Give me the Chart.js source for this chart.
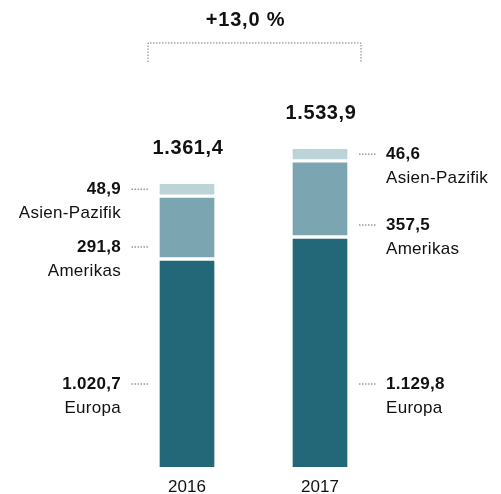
<!DOCTYPE html>
<html lang="de">
<head>
  <meta charset="UTF-8" />
  <title>Umsatz nach Regionen</title>
  <style>
    body {
      margin: 0;
      background-color: white;
      overflow: hidden;
    }
    #wrap {
      width: 501px;
      height: 494px;
    }
  </style>
</head>
<body>
  <div id="wrap"><canvas id="chart"></canvas></div>

  <script src="https://cdn.jsdelivr.net/npm/chart.js"></script>
  <script>
    const years = ['2016', '2017'];
    const europa = [1020.7, 1129.8];
    const amerikas = [291.8, 357.5];
    const asienPazifik = [48.9, 46.6];
    const growthLabel = '+13,0 %';

    const FONT = "'Liberation Sans', Arial, sans-serif";
    const GAP = 4;

    function fmt(v) {
      const parts = v.toFixed(1).split('.');
      const int = parts[0].replace(/\B(?=(\d{3})+(?!\d))/g, '.');
      return int + ',' + parts[1];
    }

    function dotted(ctx, x1, y1, x2, y2) {
      ctx.save();
      ctx.strokeStyle = '#666';
      ctx.lineWidth = 1;
      ctx.setLineDash([1.5, 1.5]);
      ctx.beginPath();
      ctx.moveTo(x1, y1);
      ctx.lineTo(x2, y2);
      ctx.stroke();
      ctx.restore();
    }

    // lift each upper segment so a white gap sits between stacked parts
    const stackGap = {
      id: 'stackGap',
      afterDatasetsUpdate(chart) {
        chart.data.datasets.forEach((ds, d) => {
          chart.getDatasetMeta(d).data.forEach(el => {
            el.y -= d * GAP;
            el.base -= d * GAP;
          });
        });
      }
    };

    // totals, segment labels with leaders, growth bracket
    const annotations = {
      id: 'annotations',
      afterDatasetsDraw(chart) {
        const ctx = chart.ctx;
        const metaEu = chart.getDatasetMeta(0);
        const metaAm = chart.getDatasetMeta(1);
        const metaAp = chart.getDatasetMeta(2);
        ctx.save();
        ctx.fillStyle = '#111';
        ctx.textBaseline = 'middle';

        years.forEach((y, i) => {
          const eu = metaEu.data[i], am = metaAm.data[i], ap = metaAp.data[i];
          const half = eu.width / 2;
          const left = i === 0;
          const edge = left ? eu.x - half : eu.x + half;
          const dir = left ? -1 : 1;

          // total above the stack
          const total = europa[i] + amerikas[i] + asienPazifik[i];
          ctx.textAlign = 'center';
          ctx.letterSpacing = '0.6px';
          ctx.font = 'bold 20px ' + FONT;
          ctx.fillText(fmt(total), eu.x + 1, ap.y - 36);

          const rows = [
            { v: asienPazifik[i], name: 'Asien-Pazifik', y: (ap.y + ap.base) / 2 },
            { v: amerikas[i], name: 'Amerikas', y: am.base - 10 },
            { v: europa[i], name: 'Europa', y: eu.base - 83 }
          ];
          ctx.letterSpacing = '0.3px';
          rows.forEach(r => {
            dotted(ctx, edge + dir * 12, r.y, edge + dir * 30, r.y);
            ctx.textAlign = left ? 'right' : 'left';
            const tx = edge + dir * 39;
            ctx.font = 'bold 17px ' + FONT;
            ctx.fillText(fmt(r.v), tx, r.y);
            ctx.font = '17px ' + FONT;
            ctx.fillText(r.name, tx, r.y + 24);
          });
        });

        // bracket spanning both years
        const b0 = metaEu.data[0], b1 = metaEu.data[1];
        const bl = b0.x - b0.width / 2 - 12;
        const br = b1.x + b1.width / 2 + 14;
        ctx.save();
        ctx.strokeStyle = '#777';
        ctx.lineWidth = 1;
        ctx.setLineDash([1.5, 1.5]);
        ctx.beginPath();
        ctx.moveTo(bl, 62);
        ctx.lineTo(bl, 43);
        ctx.lineTo(br, 43);
        ctx.lineTo(br, 62);
        ctx.stroke();
        ctx.restore();

        ctx.textAlign = 'center';
        ctx.letterSpacing = '0.8px';
        ctx.font = 'bold 20px ' + FONT;
        ctx.fillText(growthLabel, (bl + br) / 2 - 9, 20);
        ctx.restore();
      }
    };

    new Chart(document.getElementById('chart'), {
      type: 'bar',
      data: {
        labels: years,
        datasets: [
          { label: 'Europa', data: europa, backgroundColor: '#236879' },
          { label: 'Amerikas', data: amerikas, backgroundColor: '#7ba6b1' },
          { label: 'Asien-Pazifik', data: asienPazifik, backgroundColor: '#bcd3d8' }
        ]
      },
      options: {
        responsive: true,
        maintainAspectRatio: false,
        animation: false,
        layout: { padding: { left: 120.5, right: 114.5, top: 0, bottom: 0 } },
        plugins: { legend: { display: false }, tooltip: { enabled: false } },
        datasets: { bar: { barThickness: 54, borderWidth: 0 } },
        scales: {
          x: {
            stacked: true,
            grid: { display: false },
            border: { display: false },
            ticks: { color: '#111', padding: 2, font: { family: FONT, size: 17 } },
            afterFit(scale) { scale.height = 27; }
          },
          y: {
            stacked: true,
            display: false,
            min: 0,
            max: 2314
          }
        }
      },
      plugins: [stackGap, annotations]
    });
  </script>
</body>
</html>
